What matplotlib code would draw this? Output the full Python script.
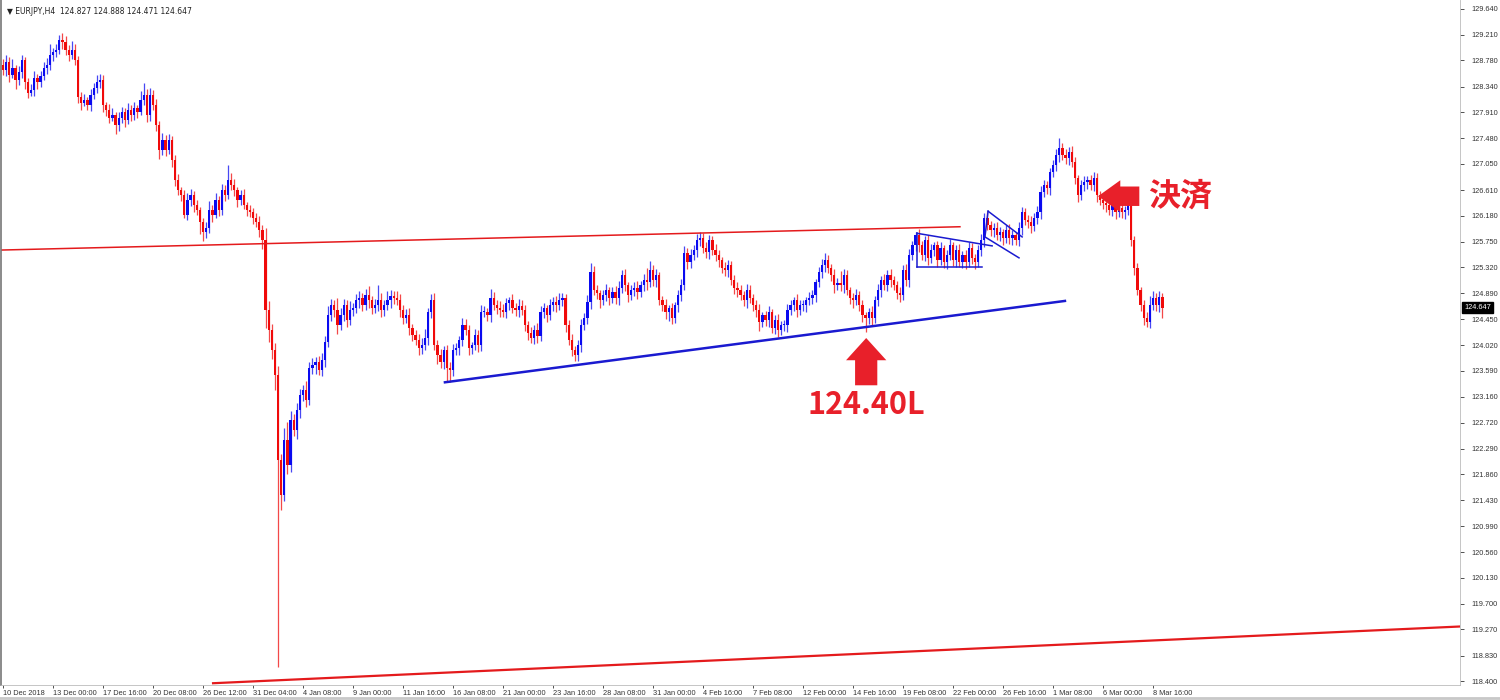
import matplotlib
matplotlib.use('Agg')
import matplotlib.pyplot as plt
import numpy as np

plt.rcParams['font.family'] = ['Liberation Sans', 'DejaVu Sans']

###########################
# data
###########################

header_text = "\u25bc EURJPY,H4  124.827 124.888 124.471 124.647"

first_open = 128.70
closes = [
    128.62, 128.75, 128.54, 128.65, 128.45, 128.59, 128.79, 128.42, 128.24, 128.29, 128.49, 128.42, 128.52, 128.65, 128.70, 128.87,
    128.92, 128.95, 129.12, 129.09, 128.95, 128.87, 128.95, 128.79, 128.17, 128.07, 128.12, 128.03, 128.20, 128.32, 128.42, 128.45,
    128.03, 127.95, 127.82, 127.87, 127.70, 127.82, 127.92, 127.78, 127.95, 127.87, 127.98, 127.92, 128.12, 128.20, 127.87, 128.20,
    128.03, 127.70, 127.28, 127.45, 127.28, 127.45, 127.12, 126.78, 126.61, 126.53, 126.20, 126.45, 126.53, 126.36, 126.28, 126.08,
    125.91, 125.98, 126.28, 126.20, 126.45, 126.28, 126.61, 126.53, 126.78, 126.70, 126.61, 126.45, 126.53, 126.36, 126.28, 126.25,
    126.15, 126.08, 125.95, 125.78, 124.61, 124.27, 123.94, 123.52, 122.10, 121.51, 122.43, 122.02, 122.77, 122.60, 122.93, 123.19,
    123.27, 123.10, 123.64, 123.69, 123.74, 123.60, 123.77, 124.07, 124.52, 124.69, 124.61, 124.36, 124.52, 124.69, 124.44, 124.61,
    124.64, 124.77, 124.81, 124.69, 124.86, 124.77, 124.64, 124.69, 124.77, 124.61, 124.69, 124.77, 124.84, 124.81, 124.77, 124.61,
    124.47, 124.52, 124.31, 124.19, 124.11, 123.97, 124.02, 124.14, 124.57, 124.77, 124.02, 123.85, 123.74, 123.94, 123.64, 123.60,
    123.94, 123.97, 124.11, 124.36, 124.27, 123.97, 124.02, 124.19, 124.02, 124.57, 124.57, 124.52, 124.81, 124.69, 124.64, 124.61,
    124.57, 124.73, 124.77, 124.64, 124.61, 124.67, 124.61, 124.36, 124.22, 124.14, 124.27, 124.17, 124.57, 124.64, 124.52, 124.69,
    124.74, 124.69, 124.77, 124.81, 124.36, 124.11, 123.94, 123.85, 124.02, 124.36, 124.47, 124.74, 125.24, 124.94, 124.89, 124.77,
    124.86, 124.94, 124.81, 124.91, 124.81, 124.97, 125.19, 125.02, 124.86, 124.94, 124.97, 124.91, 125.02, 125.11, 125.07, 125.28,
    125.11, 125.19, 124.77, 124.69, 124.57, 124.64, 124.47, 124.69, 124.86, 125.02, 125.56, 125.41, 125.53, 125.61, 125.78, 125.81,
    125.64, 125.58, 125.78, 125.61, 125.53, 125.44, 125.31, 125.28, 125.36, 125.11, 124.97, 124.94, 124.86, 124.77, 124.94, 124.81,
    124.69, 124.61, 124.41, 124.52, 124.44, 124.57, 124.31, 124.44, 124.27, 124.36, 124.36, 124.61, 124.69, 124.77, 124.61, 124.69,
    124.69, 124.77, 124.81, 124.86, 125.07, 125.24, 125.36, 125.44, 125.31, 125.19, 125.02, 125.06, 125.02, 125.19, 124.94, 124.81,
    124.77, 124.86, 124.69, 124.52, 124.47, 124.57, 124.47, 124.77, 124.94, 125.11, 125.02, 125.19, 125.11, 125.02, 124.89, 124.86,
    125.28, 125.11, 125.53, 125.69, 125.86, 125.69, 125.53, 125.78, 125.48, 125.61, 125.69, 125.44, 125.64, 125.41, 125.53, 125.69,
    125.44, 125.61, 125.41, 125.53, 125.41, 125.64, 125.48, 125.41, 125.61, 125.78, 126.15, 126.03, 125.95, 125.98, 125.86, 125.91,
    125.81, 125.95, 125.81, 125.86, 125.78, 125.98, 126.25, 126.11, 126.08, 126.01, 126.15, 126.25, 126.58, 126.70, 126.65, 126.91,
    127.03, 127.20, 127.32, 127.20, 127.15, 127.25, 127.08, 126.81, 126.53, 126.70, 126.75, 126.78, 126.70, 126.81, 126.53, 126.45,
    126.40, 126.36, 126.28, 126.36, 126.25, 126.31, 126.25, 126.28, 126.36, 125.78, 125.31, 124.94, 124.69, 124.47, 124.41, 124.69,
    124.81, 124.69, 124.83, 124.647,
]

# wick length above / below the body, in 0.01 yen
upper_wick = [
    10, 12, 8, 15, 6, 10, 8, 5, 6, 10, 12, 6, 8, 10, 12, 18,
    6, 10, 8, 12, 10, 8, 15, 10, 6, 8, 10, 5, 10, 8, 12, 10,
    8, 6, 10, 12, 5, 10, 8, 6, 12, 8, 10, 6, 15, 20, 10, 12,
    8, 10, 6, 12, 8, 10, 6, 8, 10, 5, 8, 12, 10, 6, 8, 5,
    6, 10, 15, 8, 12, 6, 10, 8, 25, 12, 10, 6, 8, 10, 6, 8,
    6, 8, 10, 8, 20, 15, 10, 12, 15, 10, 20, 30, 15, 10, 12, 10,
    8, 15, 10, 12, 8, 10, 12, 10, 15, 10, 8, 20, 12, 10, 8, 15,
    8, 10, 12, 8, 10, 15, 8, 10, 25, 12, 8, 15, 10, 8, 12, 10,
    8, 10, 12, 6, 8, 10, 12, 15, 8, 10, 12, 8, 10, 6, 8, 10,
    10, 8, 6, 12, 10, 8, 6, 10, 8, 12, 10, 8, 15, 10, 8, 12,
    10, 8, 6, 10, 8, 12, 10, 8, 6, 10, 8, 12, 10, 8, 6, 10,
    8, 10, 12, 8, 6, 8, 10, 6, 8, 10, 8, 12, 15, 10, 8, 6,
    8, 10, 6, 8, 10, 12, 8, 10, 6, 8, 10, 12, 8, 10, 20, 15,
    8, 10, 6, 8, 10, 6, 8, 6, 8, 10, 12, 8, 10, 8, 10, 10,
    8, 10, 8, 6, 10, 8, 6, 10, 8, 6, 8, 10, 8, 6, 10, 8,
    6, 8, 10, 6, 8, 10, 6, 8, 10, 6, 8, 10, 8, 6, 10, 8,
    8, 6, 10, 8, 6, 8, 10, 12, 8, 6, 10, 8, 20, 10, 8, 6,
    8, 10, 6, 8, 6, 8, 10, 8, 10, 6, 10, 8, 10, 6, 8, 10,
    8, 10, 10, 8, 6, 10, 8, 6, 8, 10, 6, 8, 10, 6, 8, 10,
    6, 8, 10, 6, 8, 10, 8, 6, 8, 10, 8, 10, 6, 8, 10, 8,
    6, 8, 10, 8, 6, 10, 8, 6, 8, 10, 8, 10, 10, 8, 6, 8,
    8, 10, 16, 8, 10, 8, 10, 8, 6, 8, 10, 6, 8, 10, 8, 6,
    8, 6, 8, 10, 8, 6, 8, 6, 10, 8, 6, 8, 6, 8, 10, 15,
    12, 8, 10, 6,
]
lower_wick = [
    8, 10, 12, 6, 15, 8, 10, 12, 8, 6, 10, 12, 8, 6, 10, 8,
    10, 8, 6, 12, 8, 10, 6, 8, 10, 12, 6, 8, 10, 6, 8, 10,
    12, 10, 8, 6, 15, 10, 8, 12, 6, 10, 8, 10, 6, 8, 12, 10,
    8, 10, 15, 8, 10, 6, 12, 10, 8, 10, 6, 8, 10, 12, 8, 20,
    15, 10, 8, 12, 6, 10, 8, 10, 6, 8, 10, 12, 8, 6, 10, 8,
    10, 8, 12, 15, 30, 20, 15, 25, 346, 25, 10, 15, 12, 10, 15, 12,
    10, 12, 8, 10, 15, 8, 10, 12, 8, 10, 12, 15, 8, 10, 12, 8,
    10, 8, 12, 10, 8, 12, 10, 8, 10, 12, 10, 8, 12, 10, 8, 12,
    10, 8, 12, 10, 8, 12, 10, 8, 12, 10, 8, 15, 10, 12, 24, 20,
    10, 8, 12, 10, 8, 12, 10, 8, 12, 10, 8, 10, 12, 8, 10, 12,
    8, 10, 12, 8, 10, 12, 8, 10, 12, 8, 10, 12, 8, 10, 12, 8,
    10, 12, 8, 10, 12, 8, 10, 10, 10, 12, 8, 10, 12, 8, 10, 12,
    8, 10, 12, 8, 10, 12, 8, 10, 12, 8, 10, 12, 8, 10, 12, 8,
    10, 12, 8, 10, 12, 15, 10, 8, 12, 10, 8, 12, 10, 8, 12, 10,
    8, 10, 12, 8, 10, 12, 8, 10, 12, 8, 10, 12, 8, 10, 12, 8,
    10, 12, 15, 8, 10, 12, 8, 10, 12, 8, 10, 12, 8, 10, 12, 8,
    10, 12, 8, 10, 12, 8, 10, 12, 8, 10, 12, 8, 10, 12, 8, 10,
    12, 8, 10, 12, 23, 10, 12, 8, 10, 12, 8, 10, 12, 8, 10, 12,
    8, 10, 12, 8, 10, 12, 8, 10, 12, 8, 10, 12, 8, 10, 12, 8,
    10, 12, 8, 10, 12, 8, 10, 12, 8, 10, 12, 8, 10, 12, 8, 10,
    12, 8, 10, 12, 8, 10, 12, 8, 10, 12, 8, 10, 12, 8, 10, 12,
    8, 10, 12, 8, 10, 12, 8, 10, 12, 8, 10, 12, 8, 10, 12, 8,
    10, 12, 8, 10, 12, 8, 10, 12, 8, 10, 12, 8, 10, 12, 9, 10,
    8, 10, 12, 18,
]

time_labels = ["10 Dec 2018", "13 Dec 00:00", "17 Dec 16:00", "20 Dec 08:00", "26 Dec 12:00",
               "31 Dec 04:00", "4 Jan 08:00", "9 Jan 00:00", "11 Jan 16:00", "16 Jan 08:00",
               "21 Jan 00:00", "23 Jan 16:00", "28 Jan 08:00", "31 Jan 00:00", "4 Feb 16:00",
               "7 Feb 08:00", "12 Feb 00:00", "14 Feb 16:00", "19 Feb 08:00", "22 Feb 00:00",
               "26 Feb 16:00", "1 Mar 08:00", "6 Mar 00:00", "8 Mar 16:00"]
label_step = 16  # bars between time labels

price_ticks = [129.640, 129.210, 128.780, 128.340, 127.910, 127.480, 127.050, 126.610, 126.180,
               125.750, 125.320, 124.890, 124.450, 124.020, 123.590, 123.160, 122.720, 122.290,
               121.860, 121.430, 120.990, 120.560, 120.130, 119.700, 119.270, 118.830, 118.400]
last_price = 124.647

# drawn lines: (bar index pair, price pair)
resist_line = ([-1.0, 306.2], [125.61, 126.00])
support_line = ([141.4, 339.8], [123.40, 124.76])
bottom_line = ([67.2, 467.0], [118.37, 119.32])
pennant_lines = [([292.5, 316.5], [125.89, 125.68]),
                 ([292.5, 313.3], [125.33, 125.33]),
                 ([292.5, 292.5], [125.89, 125.33])]
flag_lines = [([315.2, 326.1], [126.26, 125.83]),
              ([314.2, 325.1], [125.83, 125.48]),
              ([315.2, 314.2], [126.26, 125.83])]

entry_bar, entry_tip, entry_base = 276.2, 124.14, 123.35
entry_text, entry_text_price = "124.40L", 123.02
exit_tip_bar, exit_base_bar, exit_price = 350.4, 363.6, 126.51
exit_text, exit_text_bar = "決済", 366.4

###########################
# plot
###########################

bull_color = '#0a0af0'
bear_color = '#f00a0a'
mark_red = '#e8202a'

fig = plt.figure(figsize=(15, 7), dpi=100)
ax = fig.add_axes([0.0007, 0.0214, 0.9726, 0.9786])

opens = np.array([first_open] + closes[:-1])
c = np.array(closes)
n = len(c)
idx = np.arange(n)
hi = np.maximum(opens, c) + np.array(upper_wick[:n]) / 100.0
lo = np.minimum(opens, c) - np.array(lower_wick[:n]) / 100.0
colors = np.where(c >= opens, bull_color, bear_color)

ax.vlines(idx, lo, hi, colors=colors, linewidth=0.9, alpha=0.75)
body = np.maximum(np.abs(c - opens), 0.02)
ax.bar(idx, body, bottom=np.minimum(opens, c), width=0.72, color=colors, linewidth=0)

# trend lines
ax.plot(*resist_line, color='#e41a1c', lw=1.1)
ax.plot(*bottom_line, color='#e41a1c', lw=1.6)
ax.plot(*support_line, color='#1a1ad0', lw=1.8)
for xs, ys in pennant_lines + flag_lines:
    ax.plot(xs, ys, color='#1a1ad0', lw=1.1)

# arrows + notes
ax.annotate('', xy=(entry_bar, entry_tip), xytext=(entry_bar, entry_base),
            arrowprops=dict(arrowstyle='simple,head_length=0.8,head_width=1.45,tail_width=0.8',
                            mutation_scale=20, color=mark_red, shrinkA=0, shrinkB=0, lw=0))
ax.text(entry_bar, entry_text_price, entry_text, color=mark_red, fontsize=22, fontweight='bold',
        ha='center', va='center', family=['Noto Sans CJK JP', 'DejaVu Sans'])

ax.annotate('', xy=(exit_tip_bar, exit_price), xytext=(exit_base_bar, exit_price),
            arrowprops=dict(arrowstyle='simple,head_length=0.8,head_width=1.15,tail_width=0.7',
                            mutation_scale=20, color=mark_red, shrinkA=0, shrinkB=0, lw=0))
ax.text(exit_text_bar, exit_price, exit_text, color=mark_red, fontsize=23, fontweight='bold',
        ha='left', va='center', family=['Noto Sans CJK JP', 'DejaVu Sans'])

# axes
ax.set_xlim(-0.64, 466.2)
ax.set_ylim(118.34, 129.79)

ax.yaxis.tick_right()
ax.set_yticks(price_ticks)
ax.set_yticklabels(['{0:.3f}'.format(v) for v in price_ticks])
ax.tick_params(axis='y', labelsize=5.3, length=3, pad=5, colors='#333333', width=0.6)

ax.set_xticks(np.arange(0, len(time_labels) * label_step, label_step))
ax.set_xticklabels(time_labels, ha='left')
ax.tick_params(axis='x', labelsize=5.3, length=2, pad=1.5, colors='#333333', width=0.6)

ax.spines['top'].set_visible(False)
ax.spines['left'].set_color('#777777')
ax.spines['left'].set_linewidth(1.2)
ax.spines['bottom'].set_color('#bbbbbb')
ax.spines['right'].set_color('#bbbbbb')
ax.spines['bottom'].set_linewidth(0.6)
ax.spines['right'].set_linewidth(0.6)

# current price box
ax.text(1.003, last_price, '{0:.3f}'.format(last_price), transform=ax.get_yaxis_transform(),
        fontsize=5.3, color='white', ha='left', va='center',
        bbox=dict(boxstyle='square,pad=0.25', fc='black', ec='black'))

fig.text(0.0047, 0.99, header_text, fontsize=5.5, color='#222222', ha='left', va='top',
         family=['DejaVu Sans'])

# thin gray frame line along the very bottom, as in the terminal window
fig.add_artist(plt.Line2D([0, 1], [0.003, 0.003], color='#c8c8c8', lw=2))

fig.savefig('out.png', dpi=100)
